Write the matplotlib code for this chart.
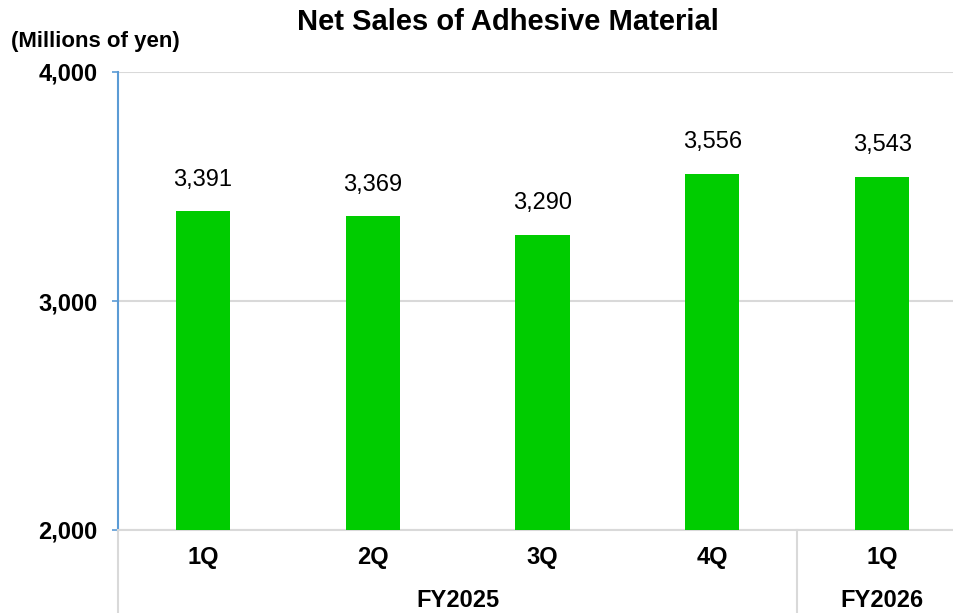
import matplotlib.pyplot as plt

plt.rcParams['font.family'] = ['Liberation Sans', 'DejaVu Sans']
plt.rcParams['font.weight'] = 'bold'

quarters = ['1Q', '2Q', '3Q', '4Q', '1Q']
sales = [3391, 3369, 3290, 3556, 3543]
years = ['FY2025', 'FY2026']
year_spans = [(0, 3), (4, 4)]
yticks = [2000, 3000, 4000]

fig = plt.figure(figsize=(9.54, 6.13), dpi=100)
ax = fig.add_axes([118 / 954, 83 / 613, 849 / 954, 458 / 613])

x = range(len(sales))
ax.bar(x, [v - 2000 for v in sales], bottom=2000, width=0.32, color='#00cc00', zorder=3)
for i, v in zip(x, sales):
    ax.annotate(f'{v:,}', (i, v), xytext=(0, 23), textcoords='offset points',
                ha='center', va='center', fontsize=17, fontweight='normal')

ax.set_xlim(-0.5, len(sales) - 0.5)
ax.set_ylim(2000, 4000)
ax.set_yticks(yticks)
ax.set_yticklabels([f'{t:,}' for t in yticks], fontsize=17, fontweight='bold')
ax.tick_params(axis='y', color='#5b9bd5', length=4.5, width=1.2, pad=10)
ax.set_xticks([])
ax.grid(axis='y', color='#d9d9d9', linewidth=1.5, zorder=0)

for s in ['top', 'right']:
    ax.spines[s].set_visible(False)
ax.spines['left'].set_color('#5b9bd5')
ax.spines['left'].set_linewidth(1.5)
ax.spines['bottom'].set_color('#d9d9d9')
ax.spines['bottom'].set_linewidth(1.5)

# category axis: quarter labels, year labels and separators under the plot
trans = ax.get_xaxis_transform()
for i, q in enumerate(quarters):
    ax.text(i, -0.06, q, transform=trans, ha='center', va='center',
            fontsize=17, fontweight='bold')
for yr, (a, b) in zip(years, year_spans):
    ax.text((a + b) / 2, -0.155, yr, transform=trans, ha='center', va='center',
            fontsize=17, fontweight='bold')
for sep in [-0.5, 3.5]:
    ax.plot([sep, sep], [0, -0.2], transform=trans, color='#d9d9d9',
            linewidth=1.5, clip_on=False)

fig.text(508 / 954, 1 - 22 / 613, 'Net Sales of Adhesive Material', ha='center',
         va='center', fontsize=21, fontweight='bold')
fig.text(95 / 954, 1 - 42 / 613, '(Millions of yen)', ha='center', va='center',
         fontsize=16, fontweight='bold')

fig.savefig('out.png', dpi=100)
